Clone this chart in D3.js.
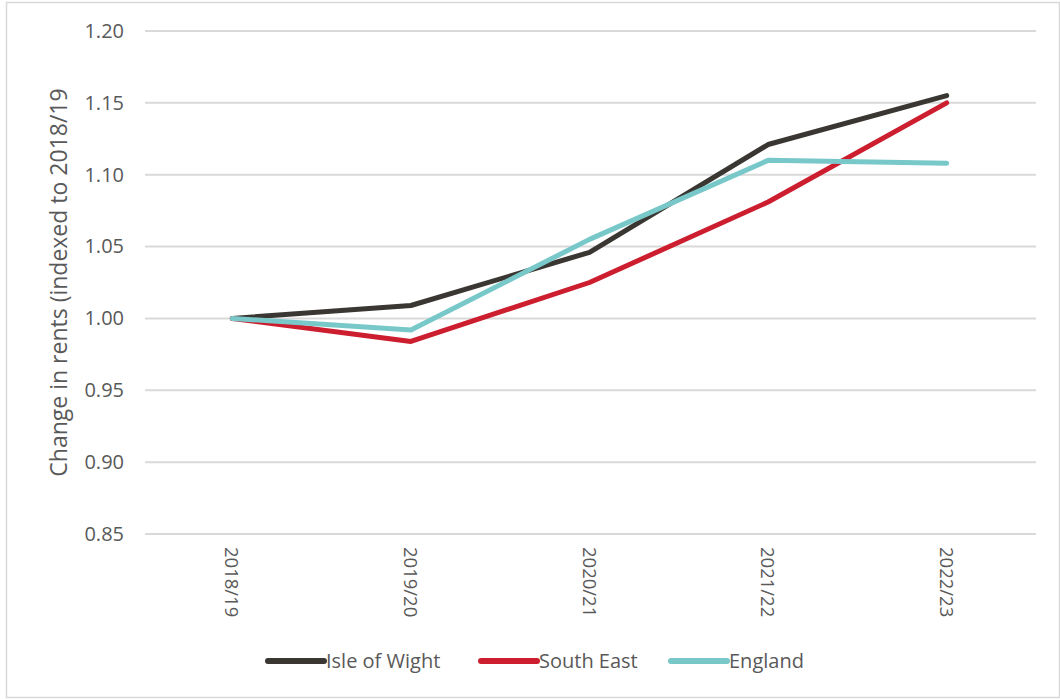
<!DOCTYPE html>
<html>
<head>
<meta charset="utf-8">
<script src="https://cdn.jsdelivr.net/npm/d3@7"></script>
<style>
  body { margin: 0; background: #fff; }
  text { font-family: "Open Sans", sans-serif; fill: #595959; }
</style>
</head>
<body>
<div id="chart"></div>
<script>
// Data
const years = ["2018/19", "2019/20", "2020/21", "2021/22", "2022/23"];
const isleOfWight = [1.000, 1.009, 1.046, 1.121, 1.155];
const southEast = [1.000, 0.984, 1.025, 1.081, 1.150];
const england = [1.000, 0.992, 1.055, 1.110, 1.108];
const yTicks = [0.85, 0.90, 0.95, 1.00, 1.05, 1.10, 1.15, 1.20];

const series = [
    { name: "Isle of Wight", values: isleOfWight, color: "#3a3733" },
    { name: "South East", values: southEast, color: "#cc1e2e" },
    { name: "England", values: england, color: "#78c8c9" }
];

const W = 1060, H = 699;
const margin = { left: 143, right: 1036, top: 31, bottom: 534 };

const svg = d3.select("#chart").append("svg")
    .attr("width", W)
    .attr("height", H);

// outer frame
svg.append("rect")
    .attr("x", 6.5).attr("y", 2.5)
    .attr("width", W - 7).attr("height", H - 4)
    .attr("fill", "none")
    .attr("stroke", "#d9d9d9")
    .attr("stroke-width", 1.5);

const x = d3.scaleBand().domain(years).range([margin.left, margin.right]);
const y = d3.scaleLinear().domain([0.85, 1.20]).range([margin.bottom, margin.top]);

// gridlines
svg.append("g")
    .selectAll("line")
    .data(yTicks)
    .enter().append("line")
    .attr("x1", margin.left + 2).attr("x2", margin.right)
    .attr("y1", d => y(d)).attr("y2", d => y(d))
    .attr("stroke", "#d9d9d9")
    .attr("stroke-width", 2);

// y axis labels
const yAxis = svg.append("g")
    .attr("transform", `translate(${margin.left - 19},0)`)
    .call(d3.axisLeft(y).tickValues(yTicks).tickFormat(d3.format(".2f")).tickSize(0).tickPadding(0));
yAxis.select(".domain").remove();
yAxis.attr("font-family", null).attr("font-size", null);
yAxis.selectAll("text")
    .style("font-size", "20px")
    .style("fill", "#595959");

// x axis labels (rotated)
svg.append("g")
    .selectAll("text")
    .data(years)
    .enter().append("text")
    .attr("transform", d => `translate(${x(d) + x.bandwidth() / 2 - 7},547) rotate(90)`)
    .attr("text-anchor", "start")
    .style("font-size", "18.5px")
    .text(d => d);

// y axis title
svg.append("text")
    .attr("transform", `translate(67,${(margin.top + margin.bottom) / 2}) rotate(-90)`)
    .attr("text-anchor", "middle")
    .style("font-size", "23px")
    .text("Change in rents (indexed to 2018/19");

// lines
const line = d3.line()
    .x((d, i) => x(years[i]) + x.bandwidth() / 2)
    .y(d => y(d));

svg.append("g")
    .selectAll("path")
    .data(series)
    .enter().append("path")
    .attr("d", d => line(d.values))
    .attr("fill", "none")
    .attr("stroke", d => d.color)
    .attr("stroke-width", 5)
    .attr("stroke-linejoin", "round")
    .attr("stroke-linecap", "round");

// legend
const legendX = [268, 481, 671];
const legend = svg.append("g")
    .attr("transform", "translate(0,661)");

legend.selectAll("line")
    .data(series)
    .enter().append("line")
    .attr("x1", (d, i) => legendX[i])
    .attr("x2", (d, i) => legendX[i] + 56)
    .attr("y1", 0).attr("y2", 0)
    .attr("stroke", d => d.color)
    .attr("stroke-width", 6)
    .attr("stroke-linecap", "round");

legend.selectAll("text")
    .data(series)
    .enter().append("text")
    .attr("x", (d, i) => legendX[i] + 58)
    .attr("y", 0)
    .attr("dy", "0.35em")
    .style("font-size", "20px")
    .text(d => d.name);
</script>
</body>
</html>
